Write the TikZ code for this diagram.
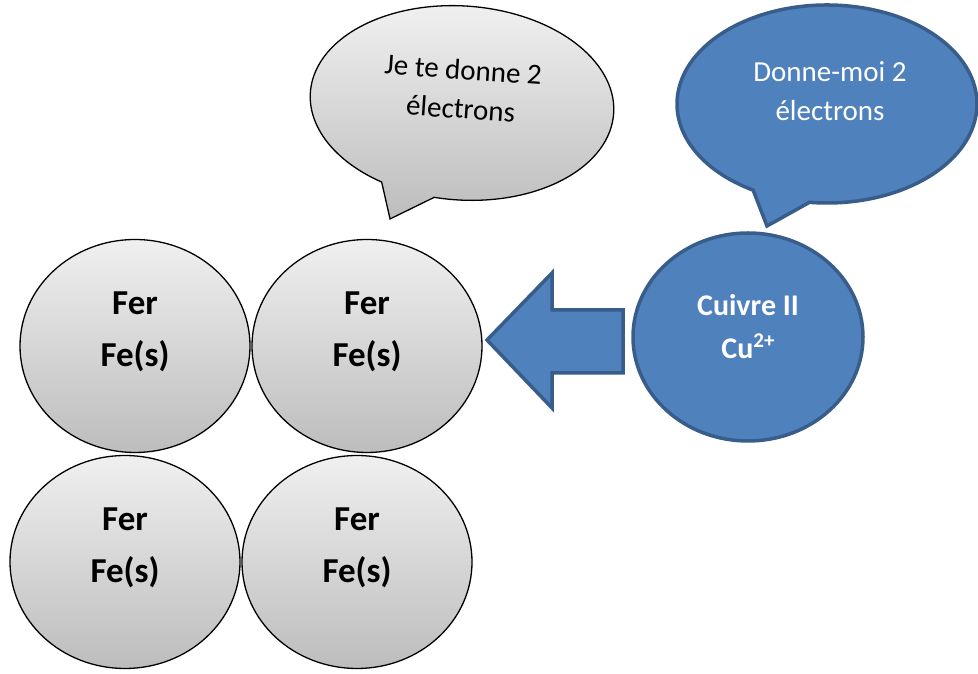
\documentclass[tikz,border=0pt]{standalone}
\usepackage{fontspec}
\setmainfont{Carlito}
\usetikzlibrary{shapes.geometric}

\definecolor{cublue}{HTML}{4F81BD}
\definecolor{cuedge}{HTML}{385D8A}

\tikzset{
  fer/.style={ellipse, draw=black, line width=1.3pt, minimum width=230pt,
    minimum height=213pt, top color=black!6, bottom color=black!26},
  ferlabel/.style={align=center, font=\bfseries\fontsize{35}{52}\selectfont},
  cuivre/.style={ellipse, draw=cuedge, line width=3.5pt, fill=cublue,
    minimum width=230pt, minimum height=208pt},
  cuivrelabel/.style={align=center, text=white, font=\bfseries\fontsize{30}{43}\selectfont},
  bubblegray/.style={draw=black, line width=1.3pt, top color=black!5, bottom color=black!26},
  bubbleblue/.style={draw=cuedge, line width=3.5pt, fill=cublue},
  saytext/.style={align=center, font=\fontsize{29}{39}\selectfont},
  bigarrow/.style={draw=cuedge, line width=3.5pt, fill=cublue, line join=miter}
}

\newcommand{\ionsup}[1]{\raisebox{11pt}{\fontsize{21}{21}\selectfont #1}}

\begin{document}
\begin{tikzpicture}[x=1pt, y=1pt]
\useasboundingbox (0,0) rectangle (978,674);

%% speech bubbles
\begin{scope}[shift={(462,571)}, rotate=-4]
\draw[bubblegray] (262:152 and 97) arc[start angle=262, end angle=600.6, x radius=152, y radius=97]
  -- (-63.7,-120.7) -- cycle;
\end{scope}
\draw[bubbleblue] (827,570) ++(263.3:150 and 99) arc[start angle=263.3, end angle=600.5, x radius=150, y radius=99]
  -- (767,448) -- cycle;

\node[saytext, rotate=-4] (say1) at (462,585) {Je te donne 2\\électrons};
\node[saytext, text=white] (say2) at (830,583) {Donne-moi 2\\électrons};

%% iron atoms
\node[fer] (fe1) at (135,328) {};
\node[fer] (fe2) at (367,328) {};
\node[fer] (fe3) at (125,112) {};
\node[fer] (fe4) at (357,112) {};

\node[ferlabel] (fe1text) at ([yshift=14pt]fe1.center) {Fer\\Fe(s)};
\node[ferlabel] (fe2text) at ([yshift=14pt]fe2.center) {Fer\\Fe(s)};
\node[ferlabel] (fe3text) at ([yshift=14pt]fe3.center) {Fer\\Fe(s)};
\node[ferlabel] (fe4text) at ([yshift=14pt]fe4.center) {Fer\\Fe(s)};

%% copper ion
\node[cuivre] (cu) at (748,337) {};
\node[cuivrelabel] (cutext) at ([yshift=10pt]cu.center) {Cuivre II\\Cu\ionsup{2+}};

%% arrow
\coordinate (tip) at (487,334);
\draw[bigarrow] (tip) -- ++(65,67) -- ++(0,-37) -- ++(71,0) -- ++(0,-63)
  -- ++(-71,0) -- ++(0,-35) -- cycle;

\end{tikzpicture}
\end{document}
